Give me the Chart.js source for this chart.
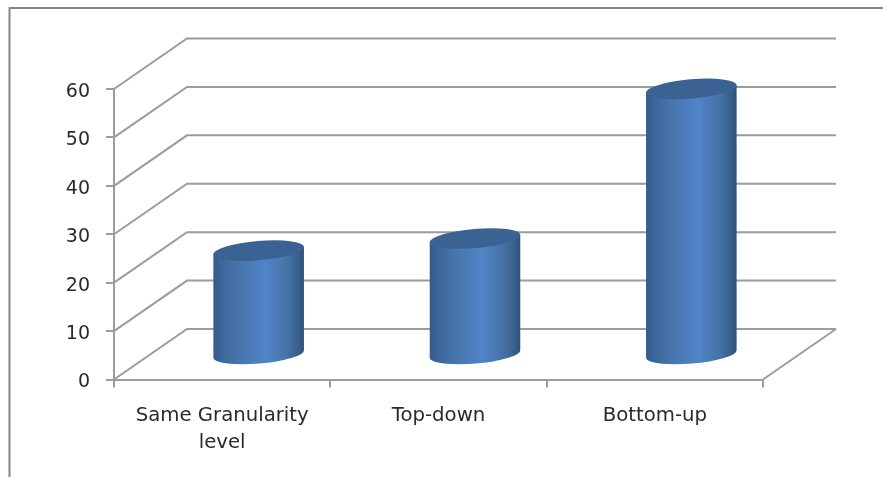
<!DOCTYPE html>
<html>
<head>
<meta charset="utf-8">
<title>Cylinder chart</title>
<script src="https://cdn.jsdelivr.net/npm/chart.js@4"></script>
<style>
  html, body { margin: 0; padding: 0; background: #fff; overflow: hidden; }
  #wrap { position: relative; width: 883px; height: 477px; }
</style>
</head>
<body>
<div id="wrap"><canvas id="myChart" width="883" height="477"></canvas></div>
<script>
const categories = [["Same Granularity", "level"], "Top-down", "Bottom-up"];
const seriesValues = [21.4, 23.9, 54.8];
const yMin = 0;
const yMax = 60;
const yStep = 10;
const yTicks = [0, 10, 20, 30, 40, 50, 60];

// how far the back wall sits behind the front axes
const depthX = 73;
const depthY = -50.5;
const lineColor = "#9c9c9c";
const textColor = "#2a2a2a";
const tilt = -0.085;

const frame = {
  id: "frame",
  beforeDraw(chart) {
    const ctx = chart.ctx;
    ctx.save();
    ctx.fillStyle = "#fff";
    ctx.fillRect(0, 0, chart.width, chart.height);
    ctx.strokeStyle = "#848484";
    ctx.lineWidth = 2;
    ctx.beginPath();
    ctx.moveTo(9.5, chart.height);
    ctx.lineTo(9.5, 8);
    ctx.lineTo(chart.width, 8);
    ctx.stroke();
    ctx.restore();
  },
};

const walls = {
  id: "walls",
  beforeDatasetsDraw(chart) {
    const ctx = chart.ctx;
    const y = chart.scales.y;
    const left = chart.chartArea.left;
    const right = chart.chartArea.right;
    ctx.save();
    ctx.strokeStyle = lineColor;
    ctx.lineWidth = 2;
    yTicks.forEach((v) => {
      const py = y.getPixelForValue(v);
      ctx.beginPath();
      ctx.moveTo(left, py);
      ctx.lineTo(left + depthX, py + depthY);
      ctx.lineTo(right + depthX, py + depthY);
      ctx.stroke();
    });
    // right edge of the floor
    const base = y.getPixelForValue(0);
    ctx.beginPath();
    ctx.moveTo(right, base);
    ctx.lineTo(right + depthX, base + depthY);
    ctx.stroke();
    ctx.restore();
  },
};

function drawCylinder(ctx, bar) {
  const rx = bar.width / 2;
  const ry = 9.6;
  const cx = bar.x + depthX / 2;
  const topY = bar.y + depthY / 2;
  const botY = bar.base + depthY / 2 + 0.8;
  const ex = rx * Math.cos(tilt);
  const ey = rx * Math.sin(tilt);

  const grad = ctx.createLinearGradient(cx - rx, 0, cx + rx, 0);
  grad.addColorStop(0, "#31598a");
  grad.addColorStop(0.08, "#3b6698");
  grad.addColorStop(0.3, "#4876ae");
  grad.addColorStop(0.58, "#5084c8");
  grad.addColorStop(0.8, "#4674a8");
  grad.addColorStop(0.94, "#375e8b");
  grad.addColorStop(1, "#2d4f78");

  ctx.save();
  ctx.fillStyle = grad;
  ctx.beginPath();
  ctx.moveTo(cx - ex, topY - ey);
  ctx.lineTo(cx - ex, botY - ey);
  ctx.ellipse(cx, botY, rx, ry, tilt, Math.PI, 0, true);
  ctx.lineTo(cx + ex, topY + ey);
  ctx.closePath();
  ctx.fill();

  ctx.fillStyle = "#3a6292";
  ctx.beginPath();
  ctx.ellipse(cx, topY, rx, ry, tilt, 0, Math.PI * 2);
  ctx.fill();
  ctx.restore();
}

const cylinders = {
  id: "cylinders",
  beforeDatasetDraw(chart, args) {
    args.meta.data.forEach((bar) => drawCylinder(chart.ctx, bar));
    return false;
  },
};

new Chart(document.getElementById("myChart").getContext("2d"), {
  type: "bar",
  data: {
    labels: categories,
    datasets: [
      {
        label: "Series1",
        data: seriesValues,
        backgroundColor: "#4f81bd",
        barPercentage: 0.42,
        categoryPercentage: 1,
      },
    ],
  },
  plugins: [frame, walls, cylinders],
  options: {
    responsive: false,
    animation: false,
    layout: { padding: { left: 0, right: 120, top: 89, bottom: 0 } },
    plugins: { legend: { display: false }, tooltip: { enabled: false } },
    scales: {
      x: {
        afterFit(scale) {
          scale.height = 97.5;
        },
        border: { color: lineColor, width: 2 },
        grid: { drawOnChartArea: false, color: lineColor, lineWidth: 2, tickLength: 8 },
        ticks: {
          color: textColor,
          font: { family: "DejaVu Sans", size: 19.7, lineHeight: 1.38 },
          maxRotation: 0,
          autoSkip: false,
          padding: 15,
        },
      },
      y: {
        min: yMin,
        max: yMax,
        afterFit(scale) {
          scale.width = 114;
        },
        border: { color: lineColor, width: 2 },
        grid: { drawOnChartArea: false, color: lineColor, lineWidth: 2, tickLength: 8 },
        ticks: {
          stepSize: yStep,
          color: textColor,
          font: { family: "DejaVu Sans", size: 19 },
          padding: 16,
          labelOffset: 3,
        },
      },
    },
  },
});
</script>
</body>
</html>
